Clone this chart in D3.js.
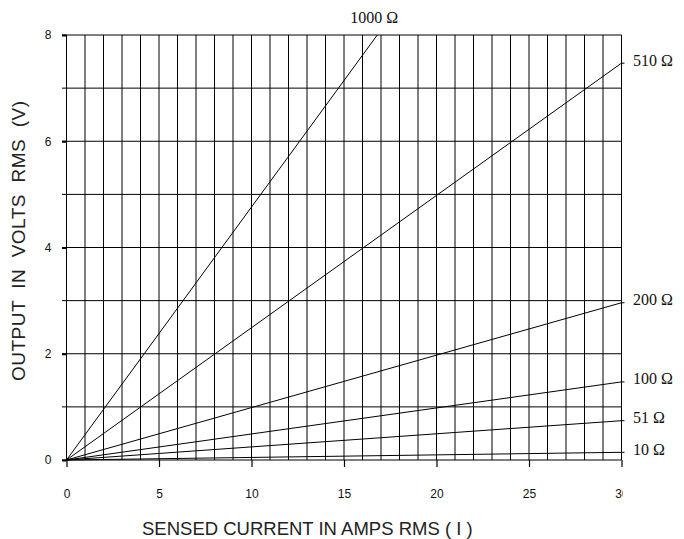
<!DOCTYPE html>
<html>
<head>
<meta charset="utf-8">
<script src="https://cdn.jsdelivr.net/npm/d3@7/dist/d3.min.js"></script>
<style>
  html, body { margin: 0; padding: 0; background: #fff; }
  svg { display: block; }
  text { white-space: pre; }
</style>
</head>
<body>
<div id="chart"></div>
<script>
// ---- data ----
const resistorLabels = ["1000 Ω", "510 Ω", "200 Ω", "100 Ω", "51 Ω", "10 Ω"];
const endCurrent = [16.8, 30, 30, 30, 30, 30];     // amps at line end
const endVoltage = [8, 7.47, 2.96, 1.47, 0.74, 0.145]; // volts at line end
const xTickValues = [0, 5, 10, 15, 20, 25, 30];
const yTickValues = [0, 2, 4, 6, 8];
const xGridValues = d3.range(0, 31, 1);
const yGridValues = d3.range(0, 9, 1);
const xTitle = "SENSED CURRENT IN AMPS RMS ( I )";
const yTitle = "OUTPUT  IN  VOLTS  RMS  (V)";

// ---- layout ----
const W = 684, H = 539;
const m = { left: 66.5, right: 62.5, top: 35, bottom: 79 };
const x = d3.scaleLinear().domain([0, 30]).range([m.left, W - m.right]);
const y = d3.scaleLinear().domain([0, 8]).range([H - m.bottom, m.top]);

const svg = d3.select("#chart").append("svg").attr("width", W).attr("height", H);

svg.append("defs").append("clipPath").attr("id", "clipR")
  .append("rect").attr("x", 0).attr("y", 0).attr("width", x(30) + 1.5).attr("height", H);

const sansFont = "Liberation Sans, Arial, sans-serif";

// grid
const grid = svg.append("g").attr("stroke", "#000").attr("stroke-width", 1).attr("fill", "none");
grid.selectAll("line.v").data(xGridValues).join("line").attr("class", "v")
  .attr("x1", d => x(d)).attr("x2", d => x(d))
  .attr("y1", y(8)).attr("y2", y(0));
grid.selectAll("line.h").data(yGridValues).join("line").attr("class", "h")
  .attr("x1", x(0) - 4.5).attr("x2", x(30))
  .attr("y1", d => y(d)).attr("y2", d => y(d));

// axes
const xAxis = svg.append("g").attr("transform", `translate(0,${y(0)})`)
  .call(d3.axisBottom(x).tickValues(xTickValues).tickSize(7).tickPadding(22).tickFormat(d3.format("d")));
xAxis.select(".domain").remove();
xAxis.selectAll(".tick line").attr("stroke", "#000").attr("stroke-width", 1.2);
xAxis.selectAll(".tick text")
  .attr("font-family", sansFont).attr("font-size", 12).attr("fill", "#111");
xAxis.attr("clip-path", "url(#clipR)");

const yAxis = svg.append("g").attr("transform", `translate(${x(0)},0)`)
  .call(d3.axisLeft(y).tickValues(yTickValues).tickSize(4.5).tickPadding(10).tickFormat(d3.format("d")));
yAxis.select(".domain").remove();
yAxis.selectAll(".tick line").attr("stroke", "#000").attr("stroke-width", 2);
yAxis.selectAll(".tick text")
  .attr("font-family", sansFont).attr("font-size", 12).attr("fill", "#111")
  .attr("x", -15);

// resistor lines
const lines = svg.append("g").attr("stroke", "#000").attr("stroke-width", 1).attr("fill", "none");
resistorLabels.forEach((lab, i) => {
  const pts = [[0, 0], [endCurrent[i], endVoltage[i]]];
  lines.append("path")
    .attr("d", d3.line().x(d => x(d[0])).y(d => y(d[1]))(pts));
  if (endCurrent[i] === 30) {
    lines.append("line")
      .attr("x1", x(30)).attr("x2", x(30) + 3)
      .attr("y1", y(endVoltage[i])).attr("y2", y(endVoltage[i]));
  }
});

// resistor labels
const labG = svg.append("g").attr("font-family", "Liberation Serif, Times New Roman, serif")
  .attr("font-size", 16).attr("fill", "#111");
resistorLabels.forEach((lab, i) => {
  if (endCurrent[i] === 30) {
    labG.append("text").attr("x", x(30) + 11.5).attr("y", y(endVoltage[i]) - 3)
      .attr("dominant-baseline", "central").text(lab);
  } else {
    labG.append("text").attr("x", x(endCurrent[i]) - 3).attr("y", y(endVoltage[i]) - 12)
      .attr("text-anchor", "middle").text(lab);
  }
});

// titles
svg.append("text")
  .attr("x", 142).attr("y", 535)
  .attr("font-family", sansFont).attr("font-size", 18.5).attr("fill", "#222")
  .text(xTitle);

svg.append("text")
  .attr("transform", "translate(25,381) rotate(-90)")
  .attr("x", 0).attr("y", 0)
  .attr("font-family", sansFont).attr("font-size", 19).attr("fill", "#222")
  .attr("textLength", 280).attr("lengthAdjust", "spacing")
  .text(yTitle);
</script>
</body>
</html>
